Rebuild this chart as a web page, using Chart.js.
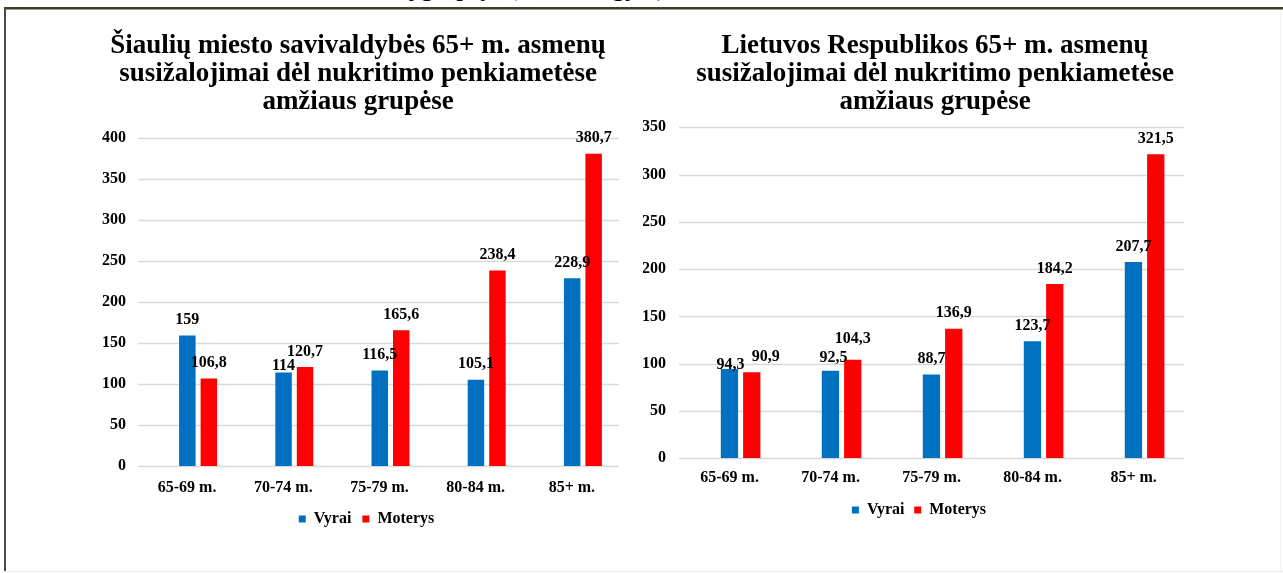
<!DOCTYPE html>
<html>
<head>
<meta charset="utf-8">
<script src="https://cdn.jsdelivr.net/npm/chart.js@4.4.0/dist/chart.umd.min.js"></script>
<style>
html,body{margin:0;padding:0;background:#fff;}
#page{position:relative;width:1283px;height:573px;overflow:hidden;background:#fff;font-family:"Liberation Serif","Times New Roman",serif;}
canvas{position:absolute;top:0;}
#c1{left:0;}
#c2{left:636px;}
.title{position:absolute;top:30px;width:600px;text-align:center;font-weight:bold;font-size:27px;line-height:28px;color:#000;white-space:nowrap;pointer-events:none;}
#t1{left:58px;}
#t2{left:635px;}
#cut{position:absolute;left:0;top:0;width:1283px;height:7px;overflow:hidden;}
#cut span{position:absolute;left:400px;top:-27px;font-size:27px;line-height:27px;white-space:nowrap;color:#000;}
.ln{position:absolute;}
</style>
</head>
<body>
<div id="page">
  <div id="cut"><span>ų grupėje (100 000 gyv.)</span></div>
  <canvas id="c1" width="636" height="573"></canvas>
  <canvas id="c2" width="647" height="573"></canvas>
  <div class="title" id="t1">Šiaulių miesto savivaldybės 65+ m. asmenų<br>susižalojimai dėl nukritimo penkiametėse<br>amžiaus grupėse</div>
  <div class="title" id="t2">Lietuvos Respublikos 65+ m. asmenų<br>susižalojimai dėl nukritimo penkiametėse<br>amžiaus grupėse</div>
  <div class="ln" style="left:4px;top:7px;width:1279px;height:2px;background:#3d3e2a;"></div>
  <div class="ln" style="left:4px;top:9px;width:1279px;height:1px;background:#9a9a88;"></div>
  <div class="ln" style="left:4px;top:7px;width:2px;height:565px;background:#4a4a40;"></div>
  <div class="ln" style="left:4px;top:571px;width:1279px;height:1px;background:#efe8ef;"></div>
  <div class="ln" style="left:1280px;top:10px;width:1px;height:562px;background:#f2f2f2;"></div>
</div>
<script>
// ---- data ----
const categories = ['65-69 m.', '70-74 m.', '75-79 m.', '80-84 m.', '85+ m.'];
const seriesNames = ['Vyrai', 'Moterys'];
const siauliaiVyrai = [159, 114, 116.5, 105.1, 228.9];
const siauliaiMoterys = [106.8, 120.7, 165.6, 238.4, 380.7];
const lietuvaVyrai = [94.3, 92.5, 88.7, 123.7, 207.7];
const lietuvaMoterys = [90.9, 104.3, 136.9, 184.2, 321.5];
const siauliaiMax = 400;
const lietuvaMax = 350;
const tickStep = 50;

const BLUE = '#0070C0';
const RED = '#FF0000';
const FAMILY = '"Liberation Serif", "Times New Roman", serif';
const boldFont = {family: FAMILY, size: 16, weight: 'bold'};

const valueLabels = {
  id: 'valueLabels',
  afterDatasetsDraw(chart, args, opts) {
    const ctx = chart.ctx;
    const nudge = opts.nudge || {};
    ctx.save();
    ctx.font = 'bold 16px ' + FAMILY;
    ctx.fillStyle = '#000';
    ctx.textAlign = 'center';
    ctx.textBaseline = 'middle';
    chart.data.datasets.forEach((ds, i) => {
      const meta = chart.getDatasetMeta(i);
      meta.data.forEach((bar, j) => {
        const v = ds.data[j];
        const n = nudge[i + ',' + j] || [0, 0];
        ctx.fillText(String(v).replace('.', ','), bar.x + n[0], bar.y - opts.gap + n[1]);
      });
    });
    ctx.restore();
  }
};

const shiftedGrid = {
  id: 'shiftedGrid',
  beforeDatasetsDraw(chart, args, opts) {
    const {ctx, chartArea} = chart;
    const y = chart.scales.y;
    ctx.save();
    ctx.strokeStyle = opts.color;
    ctx.lineWidth = opts.width;
    y.ticks.forEach(t => {
      const py = Math.round(y.getPixelForValue(t.value)) + 0.5;
      ctx.beginPath();
      ctx.moveTo(chartArea.left + opts.shift, py);
      ctx.lineTo(chartArea.right + opts.shift, py);
      ctx.stroke();
    });
    ctx.restore();
  }
};

function makeChart(id, men, women, maxV, cfg) {
  return new Chart(document.getElementById(id), {
    type: 'bar',
    data: {
      labels: categories,
      datasets: [
        {label: seriesNames[0], data: men, backgroundColor: BLUE, borderWidth: 0,
         categoryPercentage: cfg.catPct, barPercentage: cfg.barPct},
        {label: seriesNames[1], data: women, backgroundColor: RED, borderWidth: 0,
         categoryPercentage: cfg.catPct, barPercentage: cfg.barPct}
      ]
    },
    options: {
      responsive: false,
      animation: false,
      layout: {padding: cfg.pad},
      scales: {
        x: {
          grid: {display: false, drawTicks: false},
          border: {display: false},
          ticks: {padding: cfg.xPad, labelOffset: cfg.labelOffset, color: '#000', font: boldFont,
                  maxRotation: 0, autoSkip: false},
          afterFit(s) { s.height = 34; }
        },
        y: {
          min: 0, max: maxV,
          grid: {display: false, drawTicks: false},
          border: {display: false},
          ticks: {stepSize: tickStep, padding: cfg.yPad, color: '#000', font: boldFont},
          afterFit(s) { s.width = cfg.yWidth; }
        }
      },
      plugins: {
        title: {display: false},
        tooltip: {enabled: false},
        legend: {
          position: 'bottom',
          maxHeight: 27,
          labels: {boxWidth: 7, boxHeight: 7, padding: cfg.legPad, color: '#000', font: boldFont}
        },
        valueLabels: {gap: 15.5, nudge: cfg.nudge},
        shiftedGrid: {color: '#d9d9d9', width: 1.5, shift: cfg.gridShift}
      }
    },
    plugins: [shiftedGrid, valueLabels]
  });
}

makeChart('c1', siauliaiVyrai, siauliaiMoterys, siauliaiMax, {
  catPct: 0.447, barPct: 0.767,
  pad: {left: 102, right: 5, top: 138, bottom: 46},
  yWidth: 48, yPad: 24, xPad: 12.4, labelOffset: -11, legPad: 11,
  gridShift: -12,
  nudge: {'0,1': [0, 8.5]}
});
makeChart('c2', lietuvaVyrai, lietuvaMoterys, lietuvaMax, {
  catPct: 0.4416, barPct: 0.776,
  pad: {left: 6.9, right: 87.9, top: 127.3, bottom: 53.7},
  yWidth: 47.2, yPad: 24.1, xPad: 10.4, labelOffset: -11, legPad: 9.7,
  gridShift: -11,
  nudge: {'0,0': [1, 11.5], '1,0': [14, 0], '0,1': [3, 3], '1,1': [0, -5]}
});
</script>
</body>
</html>
